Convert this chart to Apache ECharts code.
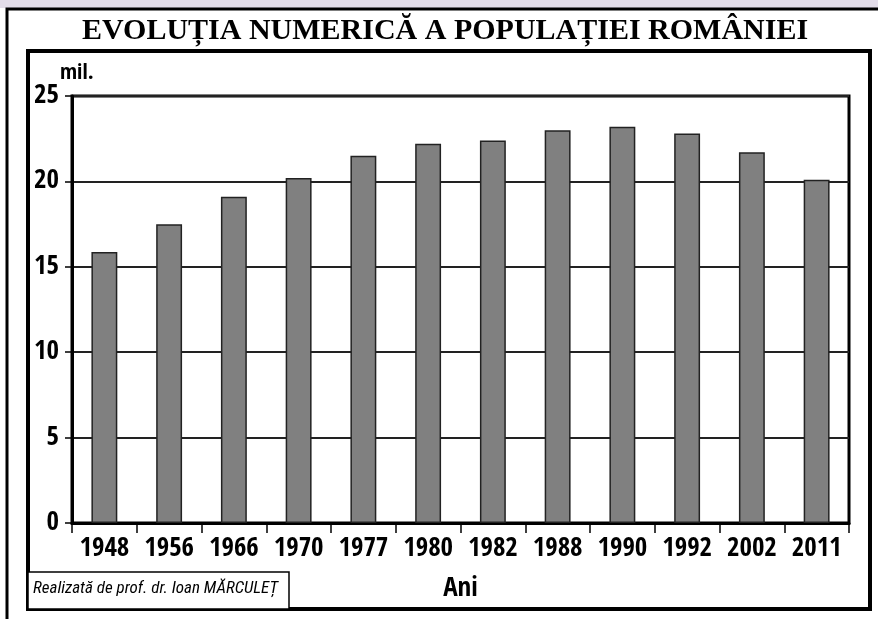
<!DOCTYPE html>
<html>
<head>
<meta charset="utf-8">
<script src="https://cdn.jsdelivr.net/npm/echarts@6/dist/echarts.min.js"></script>
<style>
  html, body { margin: 0; padding: 0; background: #fff; }
  #main { width: 878px; height: 619px; }
</style>
</head>
<body>
<div id="main"></div>
<script>
// anii recensamintelor si populatia (milioane locuitori)
const years = ['1948', '1956', '1966', '1970', '1977', '1980', '1982', '1988', '1990', '1992', '2002', '2011']
const population = [15.87, 17.49, 19.10, 20.2, 21.5, 22.2, 22.4, 23.0, 23.2, 22.8, 21.7, 20.1]
const yTicks = [0, 5, 10, 15, 20, 25]

const chart = echarts.init(document.getElementById('main'))

const narrow = '"Open Sans Condensed", "Roboto Condensed", sans-serif'
const labelFont = {
    fontFamily: narrow,
    fontWeight: 'bold',
    fontSize: 27,
    color: '#000'
}

let option = {
    backgroundColor: '#fff',
    animation: false,
    graphic: [
        // banda de sus
        { type: 'rect', shape: { x: 0, y: 0, width: 878, height: 8 }, style: { fill: '#e3dde9' } },
        // chenarul exterior
        { type: 'polyline', shape: { points: [[7, 619], [7, 9], [878, 9]] }, style: { stroke: '#000', lineWidth: 3, fill: null } },
        // titlu
        {
            type: 'text', left: 82, top: 16,
            style: {
                text: 'EVOLUȚIA NUMERICĂ A POPULAȚIEI ROMÂNIEI',
                font: 'bold 30px "Liberation Serif", "DejaVu Serif", serif',
                fill: '#000'
            }
        },
        // chenarul graficului
        { type: 'rect', shape: { x: 28, y: 51, width: 842, height: 558 }, style: { fill: 'none', stroke: '#000', lineWidth: 4 }, z: 10 },
        // mil.
        {
            type: 'text', left: 60, top: 62,
            style: { text: 'mil.', font: 'bold 22px ' + narrow, fill: '#000' }
        },
        // autor
        { type: 'rect', shape: { x: 28, y: 572, width: 261, height: 37 }, style: { fill: '#fff', stroke: '#000', lineWidth: 1.5 }, z: 11 },
        {
            type: 'text', left: 33, top: 580, z: 12,
            style: {
                text: 'Realizată de prof. dr. Ioan MĂRCULEȚ',
                font: 'italic 17px "Roboto Condensed", sans-serif',
                fill: '#000'
            }
        }
    ],
    grid: {
        left: 72, top: 96, right: 29, bottom: 96,
        show: true,
        borderColor: '#000',
        borderWidth: 3,
        backgroundColor: 'transparent'
    },
    xAxis: {
        type: 'category',
        data: years,
        name: 'Ani',
        nameLocation: 'middle',
        nameGap: 52,
        nameTextStyle: { ...labelFont, fontSize: 27 },
        axisLine: { lineStyle: { color: '#000', width: 3 } },
        axisTick: { show: true, alignWithLabel: false, length: 10, lineStyle: { color: '#000', width: 1.5 } },
        axisLabel: { ...labelFont, interval: 0, margin: 12 }
    },
    yAxis: {
        type: 'value',
        min: 0,
        max: 25,
        interval: 5,
        axisLine: { show: true, lineStyle: { color: '#000', width: 3 } },
        axisTick: { show: true, length: 7, lineStyle: { color: '#000', width: 1.5 } },
        axisLabel: {
            ...labelFont,
            margin: 13,
            formatter: v => yTicks.includes(v) ? String(v) : ''
        },
        splitLine: { show: true, lineStyle: { color: '#222', width: 2 } }
    },
    series: [{
        type: 'bar',
        data: population,
        barWidth: '40%',
        itemStyle: { color: '#808080', borderColor: '#222', borderWidth: 1.5 }
    }]
}

chart.setOption(option)
</script>
</body>
</html>
